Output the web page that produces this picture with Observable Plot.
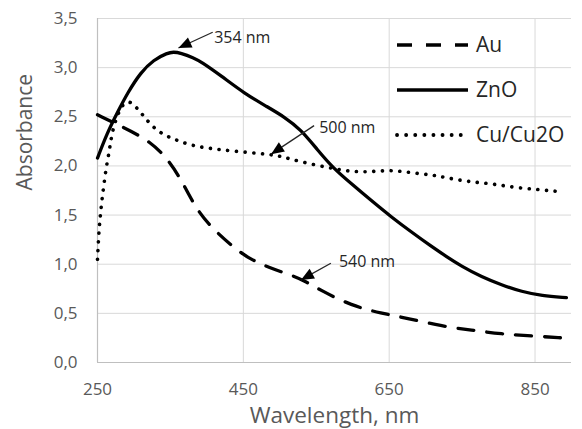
<!DOCTYPE html>
<html><head><meta charset="utf-8">
<script src="https://cdn.jsdelivr.net/npm/d3@7"></script>
<script src="https://cdn.jsdelivr.net/npm/@observablehq/plot@0.6"></script>
<style>
body{margin:0;background:#fff;}
#chart{position:relative;width:582px;height:429px;}
</style>
</head><body><div id="chart"></div>
<script>
// ---- data ----
const seriesNames = ["Au", "ZnO", "Cu/Cu2O"];

const auWl  = [250,286,323,350,369,387,412,442,460,484,515,532,557,598,639,676,721,763,804,845,889];
const auAbs = [2.52,2.39,2.25,2.04,1.80,1.54,1.33,1.14,1.05,0.97,0.89,0.84,0.73,0.58,0.50,0.45,0.37,0.33,0.29,0.27,0.25];

const znoWl  = [250,263,277,291,309,327,346,354,364,382,392,419,451,483,506,529,552,573,598,625,653,680,708,728,749,777,804,832,859,893];
const znoAbs = [2.08,2.33,2.54,2.74,2.95,3.08,3.15,3.16,3.15,3.10,3.06,2.92,2.74,2.60,2.50,2.37,2.16,1.98,1.82,1.65,1.48,1.33,1.18,1.08,0.98,0.87,0.79,0.72,0.68,0.66];

const cuWl  = [250,252,254,256,259,262,266,268,272,279,286,295,304,314,323,337,355,378,401,437,483,501,529,568,598,625,653,680,708,728,758,790,822,854,882];
const cuAbs = [1.05,1.35,1.50,1.65,1.82,1.99,2.14,2.25,2.40,2.55,2.64,2.66,2.59,2.50,2.42,2.33,2.27,2.21,2.18,2.15,2.12,2.10,2.04,1.98,1.94,1.94,1.96,1.93,1.91,1.88,1.84,1.82,1.78,1.76,1.74];

const xTicks = [250, 450, 650, 850];
const yTicks = [0, 0.5, 1, 1.5, 2, 2.5, 3, 3.5];

// annotations (data coordinates)
const annLabel   = ["354 nm", "500 nm", "540 nm"];
const annTipWl   = [361, 488, 529];
const annTipAbs  = [3.20, 2.12, 0.84];
const annTailWl  = [408, 547, 570];
const annTailAbs = [3.36, 2.41, 1.01];
const annTextWl  = [410, 554, 581];
const annTextAbs = [3.30, 2.39, 1.02];

// ---- build ----
const W = 582, H = 429;
const M = {top: 18, right: 11, bottom: 67, left: 97};
const xDomain = [250, 900], yDomain = [0, 3.5];
const FONT = "Open Sans";

const toRows = (wl, ab, name) => wl.map((w, i) => ({wl: w, abs: ab[i], name}));
const au = toRows(auWl, auAbs, seriesNames[0]);
const zno = toRows(znoWl, znoAbs, seriesNames[1]);
const cu = toRows(cuWl, cuAbs, seriesNames[2]);

const ann = annLabel.map((t, i) => ({t, tipWl: annTipWl[i], tipAbs: annTipAbs[i], tailWl: annTailWl[i], tailAbs: annTailAbs[i], txWl: annTextWl[i], txAbs: annTextAbs[i]}));

// same linear mapping as the plot scales, only used to orient arrowheads
const sx = d3.scaleLinear(xDomain, [M.left, W - M.right]);
const sy = d3.scaleLinear(yDomain, [H - M.bottom, M.top]);
ann.forEach(a => {
  const dx = sx(a.tipWl) - sx(a.tailWl), dy = sy(a.tipAbs) - sy(a.tailAbs);
  a.angle = Math.atan2(dx, -dy) * 180 / Math.PI;
});
const arrowHead = {draw(ctx) { const L = 13, w = 5.5; ctx.moveTo(0, 0); ctx.lineTo(w, L); ctx.lineTo(-w, L); ctx.closePath(); }};

const fmtY = d => d.toFixed(1).replace(".", ",");

const plot = Plot.plot({
  width: W, height: H,
  marginTop: M.top, marginRight: M.right, marginBottom: M.bottom, marginLeft: M.left,
  style: {fontFamily: FONT, background: "#fff", overflow: "visible"},
  x: {domain: xDomain, type: "linear"},
  y: {domain: yDomain, type: "linear"},
  marks: [
    Plot.gridY(yTicks, {stroke: "#d9d9d9", strokeOpacity: 1, strokeWidth: 1}),
    Plot.gridX(xTicks.slice(1), {stroke: "#d9d9d9", strokeOpacity: 1, strokeWidth: 1}),
    Plot.ruleX([xDomain[0]], {stroke: "#bfbfbf", strokeWidth: 1.2}),
    Plot.ruleY([yDomain[0]], {stroke: "#bfbfbf", strokeWidth: 1.2}),
    Plot.axisY(yTicks, {tickSize: 0, tickPadding: 20, tickFormat: fmtY, label: null, fontSize: 17, fill: "#595959"}),
    Plot.axisX(xTicks, {tickSize: 0, tickPadding: 20, tickFormat: d => String(d), label: null, fontSize: 17, fill: "#595959"}),
    Plot.text(["Wavelength, nm"], {frameAnchor: "bottom", dy: 53, lineAnchor: "middle", fontSize: 22.5, fill: "#595959"}),
    Plot.text(["Absorbance"], {frameAnchor: "left", dx: -72, rotate: -90, lineAnchor: "middle", fontSize: 21, fill: "#595959"}),
    Plot.line(au, {x: "wl", y: "abs", stroke: "#000", strokeWidth: 3.3, strokeDasharray: "16,13", curve: "basis"}),
    Plot.line(zno, {x: "wl", y: "abs", stroke: "#000", strokeWidth: 3.3, curve: "basis"}),
    Plot.line(cu, {x: "wl", y: "abs", stroke: "#000", strokeWidth: 3.6, strokeDasharray: "0.1,8.6", strokeLinecap: "round", curve: "basis"}),
    Plot.link(ann, {x1: "tailWl", y1: "tailAbs", x2: "tipWl", y2: "tipAbs", stroke: "#262626", strokeWidth: 1.3}),
    Plot.dot(ann, {x: "tipWl", y: "tipAbs", symbol: arrowHead, rotate: "angle", fill: "#000", stroke: "none"}),
    Plot.text(ann, {x: "txWl", y: "txAbs", text: "t", textAnchor: "start", lineAnchor: "middle", fontSize: 16, fill: "#262626"})
  ]
});

// legend inside the plot area, top right
const svg = d3.select(plot);
const lg = svg.append("g").attr("font-family", FONT).attr("font-size", 21).attr("fill", "#262626").attr("text-anchor", "start");
const legendStyles = [
  {dash: "15,14", width: 3.5, cap: "butt", x2: 468},
  {dash: null, width: 3.5, cap: "butt", x2: 468},
  {dash: "0.1,9", width: 3.8, cap: "round", x2: 462}
];
seriesNames.forEach((name, i) => {
  const cy = 45 + i * 45;
  const s = legendStyles[i];
  lg.append("line").attr("x1", 397).attr("x2", s.x2).attr("y1", cy).attr("y2", cy)
    .attr("stroke", "#000").attr("stroke-width", s.width).attr("stroke-linecap", s.cap)
    .attr("stroke-dasharray", s.dash);
  lg.append("text").attr("x", 476).attr("y", cy).attr("dy", "0.35em").attr("text-anchor", "start").text(name);
});

document.getElementById("chart").appendChild(plot);
</script>
</body></html>
